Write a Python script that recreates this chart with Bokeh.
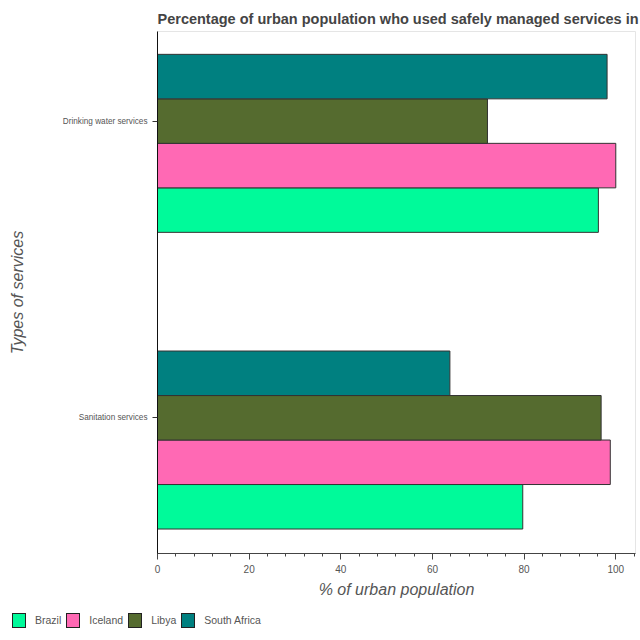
from bokeh.plotting import figure
from bokeh.layouts import column
from bokeh.models import ColumnDataSource, Range1d, FixedTicker, Div
from bokeh.transform import dodge
from bokeh.embed import file_html
from bokeh.resources import INLINE

services = ["Drinking water services", "Sanitation services"]
countries = ["Brazil", "Iceland", "Libya", "South Africa"]
brazil = [96.2, 79.7]
iceland = [100.0, 98.8]
libya = [72.0, 96.8]
south_africa = [98.1, 63.8]
colors = ["#00FA9A", "#FF69B4", "#556B2F", "#008080"]
x_ticks = [0, 20, 40, 60, 80, 100]

series = [brazil, iceland, libya, south_africa]
ypos = [len(services) - i - 0.5 for i in range(len(services))]

p = figure(width=640, height=605, output_backend="svg", toolbar_location=None,
           x_range=Range1d(0, 104.3), y_range=Range1d(0.0425, 1.802),
           min_border_left=157, min_border_right=5, min_border_top=31, min_border_bottom=52,
           title="Percentage of urban population who used safely managed services in")

bar_h = 0.15
for j, (name, vals, col) in enumerate(zip(countries, series, colors)):
    src = ColumnDataSource(dict(service=services, y=ypos, v=vals))
    off = (j - 2) * bar_h
    p.hbar(y=dodge("y", off), right="v", left=0, height=bar_h, source=src,
           fill_color=col, line_color="#333333", line_width=1, legend_label=name)

# move the legend out of the plot into an HTML strip below it
p.legend.visible = False
legend_html = "".join(
    '<span style="display:inline-block;box-sizing:border-box;width:14px;height:15px;'
    'background:%s;border:1px solid #222;margin-left:%dpx"></span>'
    '<span style="margin-left:9px">%s</span>' % (c, 12 if k == 0 else 5, n)
    for k, (n, c) in enumerate(zip(countries, colors)))
legend_div = Div(
    text='<div style="display:flex;align-items:center;height:30px;'
         'font-family:\'Liberation Sans\',Arial,sans-serif;font-size:10.5px;color:#555555;'
         'white-space:nowrap">' + legend_html + '</div>',
    width=640, height=35, margin=0)

p.title.text_font = "Liberation Sans"
p.title.text_font_size = "14.5px"
p.title.text_font_style = "bold"
p.title.text_color = "#444444"
p.title.align = "left"
p.title.standoff = 9
p.title.offset = 0

p.xgrid.visible = False
p.ygrid.visible = False
p.outline_line_color = "#e5e5e5"
p.outline_line_width = 1

xa = p.xaxis[0]
xa.ticker = FixedTicker(ticks=x_ticks, minor_ticks=[t for t in range(0, 105, 4)])
xa.axis_label = "% of urban population"
xa.axis_label_text_font = "Liberation Sans"
xa.axis_label_text_font_size = "16px"
xa.axis_label_text_font_style = "italic"
xa.axis_label_text_color = "#555555"
xa.axis_label_standoff = 5
xa.major_label_text_font = "Liberation Sans"
xa.major_label_text_font_size = "10px"
xa.major_label_text_color = "#555555"
xa.axis_line_color = "#444444"
xa.major_tick_line_color = "#444444"
xa.minor_tick_line_color = "#444444"
xa.major_tick_in = 0
xa.major_tick_out = 6
xa.minor_tick_in = 0
xa.minor_tick_out = 3

ya = p.yaxis[0]
ya.ticker = FixedTicker(ticks=ypos, minor_ticks=[])
ya.major_label_overrides = {y: s for y, s in zip(ypos, services)}
ya.axis_label = "Types of services"
ya.axis_label_text_font = "Liberation Sans"
ya.axis_label_text_font_size = "16px"
ya.axis_label_text_font_style = "italic"
ya.axis_label_text_color = "#555555"
ya.axis_label_standoff = 34
ya.major_label_text_font = "Liberation Sans"
ya.major_label_text_font_size = "8.2px"
ya.major_label_text_color = "#555555"
ya.axis_line_color = "#111111"
ya.major_tick_line_color = "#333333"
ya.major_tick_in = 0
ya.major_tick_out = 5
ya.minor_tick_line_color = None

open("out.html", "w").write(file_html(column(p, legend_div, spacing=0), INLINE))
